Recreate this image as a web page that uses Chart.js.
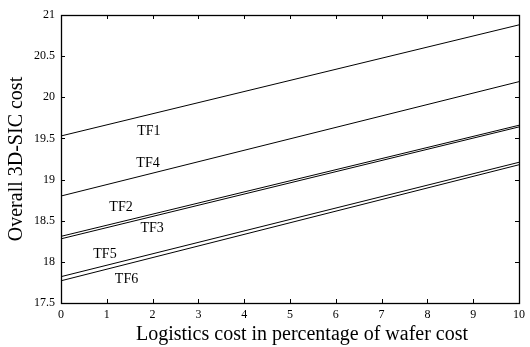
<!DOCTYPE html>
<html>
<head>
<meta charset="utf-8">
<script src="https://cdn.jsdelivr.net/npm/chart.js@4"></script>
<style>
  html, body { margin: 0; padding: 0; background: #fff; }
  #wrap { width: 530px; height: 347px; }
</style>
</head>
<body>
<div id="wrap"><canvas id="c"></canvas></div>
<script>
// logistics cost (% of wafer cost) at the two ends of each line
var xCost = [0, 10]

// overall 3D-SIC cost per test flow
var tf1 = [19.53, 20.88]
var tf4 = [18.80, 20.19]
var tf2 = [18.31, 19.66]
var tf3 = [18.28, 19.64]
var tf5 = [17.82, 19.21]
var tf6 = [17.77, 19.18]

var seriesNames = ["TF1", "TF4", "TF2", "TF3", "TF5", "TF6"]
var seriesValues = [tf1, tf4, tf2, tf3, tf5, tf6]

// where the TF labels sit, in data units
var labelX = [1.92, 1.90, 1.31, 1.99, 0.96, 1.43]
var labelY = [19.59, 19.20, 18.66, 18.41, 18.09, 17.79]

var yTicks = [17.5, 18, 18.5, 19, 19.5, 20, 20.5, 21]
var xTicks = [0, 1, 2, 3, 4, 5, 6, 7, 8, 9, 10]

var xTitle = "Logistics cost in percentage of wafer cost"

var serif = "'Liberation Serif', 'DejaVu Serif', serif"

function toPoints(vals) {
    var pts = []
    for (var i = 0; i < xCost.length; i++) {
        pts.push({ x: xCost[i], y: vals[i] })
    }
    return pts
}

var datasets = []
for (var i = 0; i < seriesNames.length; i++) {
    datasets.push({
        label: seriesNames[i],
        data: toPoints(seriesValues[i]),
        borderColor: "#000",
        borderWidth: 1,
        pointRadius: 0,
        fill: false
    })
}

// box + inward ticks on all four sides, the TF labels and the x title
var framePlugin = {
    id: "frame",
    afterDatasetsDraw: function (chart) {
        var ctx = chart.ctx
        var a = chart.chartArea
        var xs = chart.scales.x
        var ys = chart.scales.y
        ctx.save()
        ctx.strokeStyle = "#000"
        ctx.lineWidth = 1
        ctx.beginPath()
        xTicks.forEach(function (t) {
            var px = Math.round(xs.getPixelForValue(t)) + 0.5
            ctx.moveTo(px, a.bottom); ctx.lineTo(px, a.bottom - 4)
            ctx.moveTo(px, a.top); ctx.lineTo(px, a.top + 4)
        })
        yTicks.forEach(function (t) {
            var py = Math.round(ys.getPixelForValue(t)) + 0.5
            ctx.moveTo(a.left, py); ctx.lineTo(a.left + 4, py)
            ctx.moveTo(a.right, py); ctx.lineTo(a.right - 4, py)
        })
        ctx.stroke()
        ctx.lineWidth = 1.3
        ctx.strokeRect(Math.round(a.left) + 0.5, Math.round(a.top) + 0.5,
            Math.round(a.right - a.left), Math.round(a.bottom - a.top))

        ctx.fillStyle = "#000"
        ctx.font = "14px " + serif
        ctx.textAlign = "center"
        ctx.textBaseline = "middle"
        for (var i = 0; i < seriesNames.length; i++) {
            ctx.fillText(seriesNames[i], xs.getPixelForValue(labelX[i]), ys.getPixelForValue(labelY[i]))
        }

        // x title sits a bit right of the plot centre in the original
        ctx.font = "20px " + serif
        ctx.fillText(xTitle, (a.left + a.right) / 2 + 12, xs.bottom - 12)
        ctx.restore()
    }
}

new Chart(document.getElementById("c"), {
    type: "line",
    data: { datasets: datasets },
    plugins: [framePlugin],
    options: {
        responsive: true,
        maintainAspectRatio: false,
        animation: false,
        layout: { padding: { left: 0, right: 6, top: 15, bottom: 0 } },
        plugins: { legend: { display: false }, tooltip: { enabled: false } },
        scales: {
            x: {
                type: "linear",
                min: 0,
                max: 10,
                afterFit: function (s) { s.height = 44 },
                afterBuildTicks: function (s) { s.ticks = xTicks.map(function (v) { return { value: v } }) },
                grid: { display: false, drawTicks: false },
                border: { display: false },
                ticks: {
                    color: "#000", padding: 5, maxRotation: 0,
                    font: { family: serif, size: 12 },
                    callback: function (v) { return String(v) }
                }
            },
            y: {
                min: 17.5,
                max: 21,
                afterFit: function (s) { s.width = 61 },
                afterBuildTicks: function (s) { s.ticks = yTicks.map(function (v) { return { value: v } }) },
                grid: { display: false, drawTicks: false },
                border: { display: false },
                ticks: {
                    color: "#000", padding: 6,
                    font: { family: serif, size: 12 },
                    callback: function (v) { return String(v) }
                },
                title: {
                    display: true,
                    text: "Overall 3D-SIC cost",
                    color: "#000",
                    padding: { top: 5, bottom: 0 },
                    font: { family: serif, size: 20 }
                }
            }
        }
    }
})
</script>
</body>
</html>
